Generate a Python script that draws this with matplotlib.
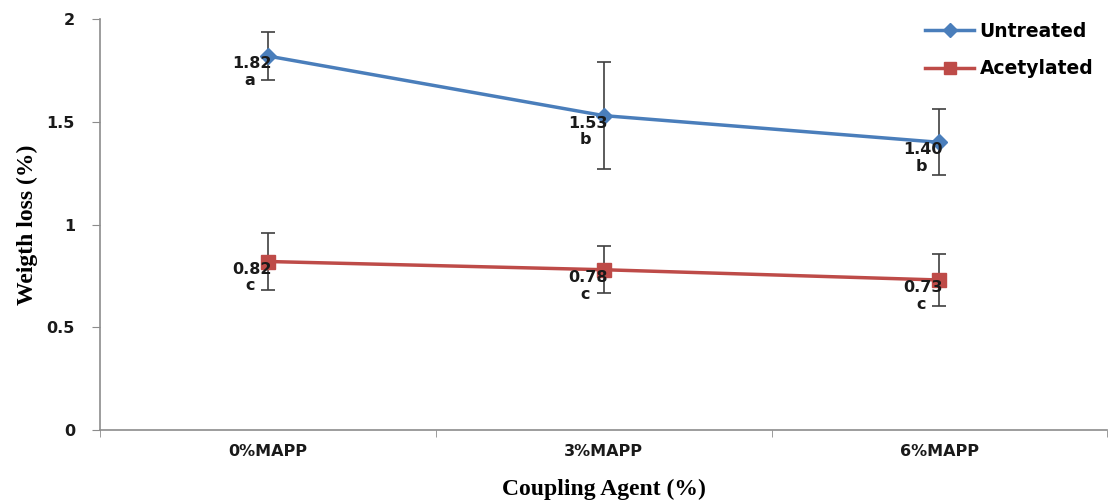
import numpy as np
import matplotlib.pyplot as plt
from matplotlib.lines import Line2D

categories = ["0%MAPP", "3%MAPP", "6%MAPP"]
untreated = [1.82, 1.53, 1.40]
untreated_err = [0.115, 0.26, 0.16]
untreated_letters = ["a", "b", "b"]
acetylated = [0.82, 0.78, 0.73]
acetylated_err = [0.14, 0.115, 0.127]
acetylated_letters = ["c", "c", "c"]

blue = "#4A7EBB"
red = "#BE4B48"
grey = "#8C8C8C"
txt = "#1a1a1a"

fig = plt.figure(figsize=(11.08, 5.01), dpi=100)
ax = fig.add_axes([0.0903, 0.1417, 0.909, 0.8203])
x = np.arange(len(categories))

ax.errorbar(x, untreated, yerr=untreated_err, color=blue, lw=2.5, marker="D",
            ms=8, ecolor="#404040", elinewidth=1.2, capsize=5, capthick=1.2, zorder=3)
ax.errorbar(x, acetylated, yerr=acetylated_err, color=red, lw=2.5, marker="s",
            ms=10, ecolor="#404040", elinewidth=1.2, capsize=5, capthick=1.2, zorder=3)

# value labels with letters underneath (offsets in points, 1 px = 0.72 pt)
for vals, letters in [(untreated, untreated_letters), (acetylated, acetylated_letters)]:
    for xi, v, l in zip(x, vals, letters):
        ax.annotate(f"{v:.2f}", (xi, v), xytext=(-11.5, -5.5), textcoords="offset points",
                    ha="center", va="center", fontsize=11.5, fontweight="bold",
                    color=txt, zorder=6)
        ax.annotate(l, (xi, v), xytext=(-13, -17.5), textcoords="offset points",
                    ha="center", va="center", fontsize=11.5, fontweight="bold",
                    color=txt, zorder=6)

ax.set_xlim(-0.5, 2.5)
ax.set_ylim(0, 2)
ax.set_yticks([0, 0.5, 1, 1.5, 2])
ax.set_yticklabels(["0", "0.5", "1", "1.5", "2"])
ax.set_xticks(x)
ax.set_xticklabels(categories)
ax.set_xticks([-0.5, 0.5, 1.5, 2.5], minor=True)
ax.tick_params(axis="x", which="major", length=0, pad=10)
ax.tick_params(axis="x", which="minor", length=5, color=grey)
ax.tick_params(axis="y", length=6, color=grey, pad=12)
for lab in ax.get_xticklabels() + ax.get_yticklabels():
    lab.set_fontweight("bold")
    lab.set_fontsize(11.5)
    lab.set_color(txt)

for s in ["top", "right"]:
    ax.spines[s].set_visible(False)
for s in ["left", "bottom"]:
    ax.spines[s].set_color(grey)
    ax.spines[s].set_linewidth(1.2)

ax.set_ylabel("Weigth loss (%)", fontfamily="Liberation Serif", fontweight="bold",
              fontsize=17, labelpad=6)
ax.set_xlabel("Coupling Agent (%)", fontfamily="Liberation Serif", fontweight="bold",
              fontsize=17, labelpad=14)

handles = [Line2D([], [], color=blue, lw=2.5, marker="D", ms=7),
           Line2D([], [], color=red, lw=2.5, marker="s", ms=9)]
ax.legend(handles, ["Untreated", "Acetylated"], loc="upper right", frameon=False,
          bbox_to_anchor=(1.003, 1.035), prop={"weight": "bold", "size": 13.5},
          labelspacing=1.0, handlelength=2.6, handletextpad=0.3)

fig.savefig("out.png", dpi=100)
